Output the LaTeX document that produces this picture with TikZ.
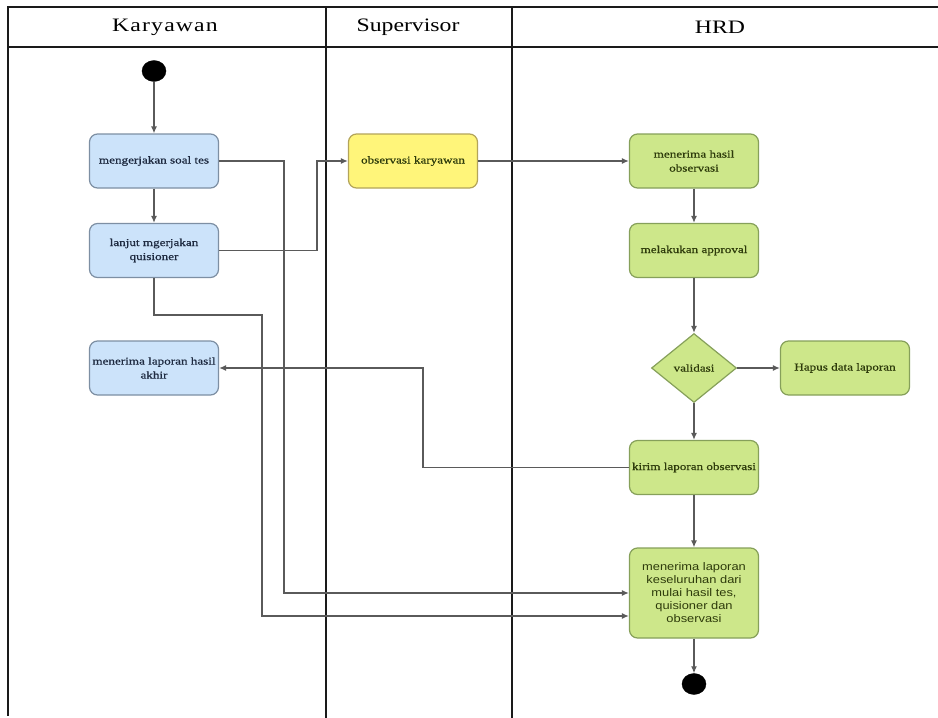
\documentclass[tikz,border=0pt]{standalone}
\usepackage{fontspec}
\setmainfont{Liberation Serif}
\newfontfamily\hdrfont[FakeStretch=1.25]{Liberation Serif}
\newfontfamily\actfont[FakeStretch=1.25,FakeBold=0.6]{Liberation Serif}
\newfontfamily\actsans[FakeStretch=1.17]{Liberation Sans}
\usetikzlibrary{shapes.geometric,arrows.meta}

\definecolor{bluefill}{HTML}{CCE3FA}
\definecolor{bluedraw}{HTML}{7D8FA3}
\definecolor{yelfill}{HTML}{FFF57A}
\definecolor{yeldraw}{HTML}{B3A45A}
\definecolor{grnfill}{HTML}{CDE78A}
\definecolor{grndraw}{HTML}{86A05A}
\definecolor{grntext}{HTML}{2E3B0B}
\definecolor{bluetext}{HTML}{1E2A40}
\definecolor{flowgray}{HTML}{5A5A5A}
\definecolor{lanecol}{HTML}{1A1A1A}

\begin{document}
\begin{tikzpicture}[x=1pt,y=-1pt,
  lanel/.style={draw=lanecol, line width=1.6pt},
  hdr/.style={font=\hdrfont\fontsize{19}{22}\selectfont, text=black},
  act/.style={rectangle, rounded corners=8pt, minimum width=129pt, minimum height=54pt,
    line width=1.2pt, align=center, inner sep=2pt,
    font=\actfont\fontsize{10.5}{14}\selectfont},
  blueact/.style={act, fill=bluefill, draw=bluedraw, text=bluetext},
  yelact/.style={act, fill=yelfill, draw=yeldraw, text=grntext},
  grnact/.style={act, fill=grnfill, draw=grndraw, text=grntext},
  decide/.style={diamond, aspect=1.23, minimum width=85pt, minimum height=69pt,
    inner sep=0pt, fill=grnfill, draw=grndraw, line width=1.2pt, text=grntext,
    font=\actfont\fontsize{10.5}{14}\selectfont},
  terminal/.style={ellipse, fill=black, draw=black, minimum width=24pt, minimum height=21pt, inner sep=0pt},
  flowline/.style={draw=flowgray, line width=1.3pt, -{Latex[length=7pt,width=6pt]}}
]
\fill[white] (0,0) rectangle (938,718);
\useasboundingbox (0,0) rectangle (938,718);

% swimlane frame
\draw[lanel] (938,7) -- (8,7) -- (8,716);
\draw[lanel] (8,47) -- (938,47);
\draw[lanel] (326,7) -- (326,718);
\draw[lanel] (512,7) -- (512,718);

\node[hdr] (hK) at (165,27) {\addfontfeature{LetterSpace=6}Karyawan};
\node[hdr] (hS) at (408,27) {Supervisor};
\node[hdr] (hH) at (720,27) {HRD};

% Karyawan lane
\node[terminal] (start) at (154,71) {};
\node[blueact] (b1) at (154,161) {mengerjakan soal tes};
\node[blueact] (b2) at (154,250.5) {lanjut mgerjakan\\quisioner};
\node[blueact] (b3) at (154,368) {menerima laporan hasil\\akhir};

% Supervisor lane
\node[yelact] (obs) at (413,161) {observasi karyawan};

% HRD lane
\node[grnact] (hasil) at (694,161) {menerima hasil\\observasi};
\node[grnact] (appr) at (694,250.5) {melakukan approval};
\node[decide] (val) at (694,368) {validasi};
\node[grnact] (hapus) at (845,368) {Hapus data laporan};
\node[grnact] (kirim) at (694,467.5) {kirim laporan observasi};
\node[grnact, minimum height=90pt, font=\actsans\fontsize{11}{13}\selectfont]
  (fin) at (694,593) {menerima laporan\\keseluruhan dari\\mulai hasil tes,\\quisioner dan\\observasi};
\node[terminal] (end) at (694,684) {};

% control flow
\draw[flowline] (start) -- (b1);
\draw[flowline] (b1) -- (b2);
\draw[flowline] (b1.east) -- ++(65,0) |- (fin.west);
\draw[flowline] (b2.south) -- ++(0,37) -- ++(108,0) |- ([yshift=-23pt]fin.west);
\draw[flowline] (b2.east) -- ++(98,0) |- (obs.west);
\draw[flowline] (obs) -- (hasil);
\draw[flowline] (hasil) -- (appr);
\draw[flowline] (appr) -- (val);
\draw[flowline] (val) -- (hapus);
\draw[flowline] (val) -- (kirim);
\draw[flowline] (kirim.west) -- ++(-206,0) |- (b3.east);
\draw[flowline] (kirim) -- (fin);
\draw[flowline] (fin) -- (end);
\end{tikzpicture}
\end{document}
